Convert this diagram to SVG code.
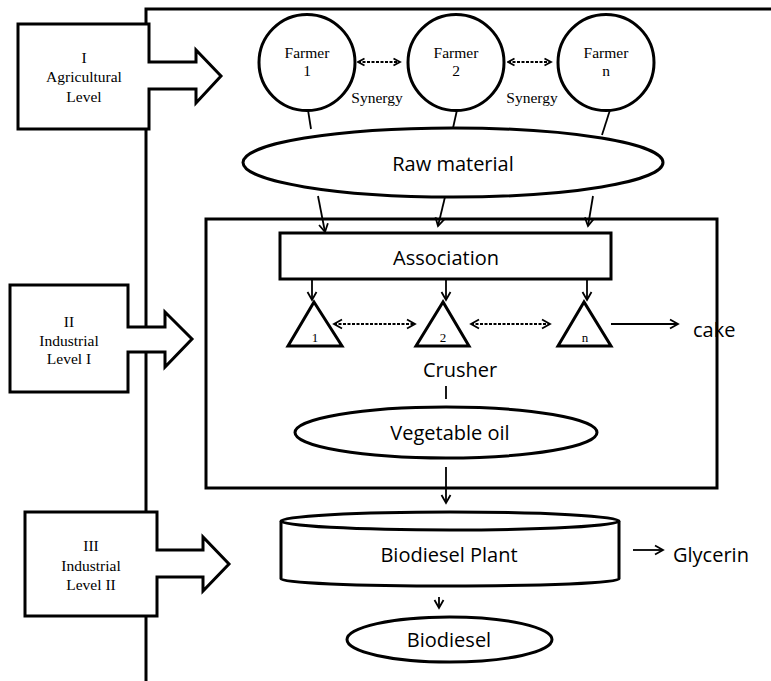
<svg xmlns="http://www.w3.org/2000/svg" width="771" height="681" viewBox="0 0 771 681">
<style>
.thick{fill:#fff;stroke:#000;stroke-width:3;stroke-linejoin:miter}
.shape{fill:#fff;stroke:#000;stroke-width:3}
.ln{fill:none;stroke:#000;stroke-width:1.8}
.dash{fill:none;stroke:#000;stroke-width:1.8;stroke-dasharray:3,1.5}
.ser{font-family:"Liberation Serif","Times New Roman",serif;font-size:15.5px;text-anchor:middle;fill:#000}
.num{font-family:"Liberation Serif","Times New Roman",serif;font-size:13px;text-anchor:middle;fill:#000}
.san{font-family:"Open Sans","DejaVu Sans",sans-serif;font-size:20px;text-anchor:middle;fill:#000}
</style>
<defs>
<marker id="ah" markerUnits="userSpaceOnUse" markerWidth="12" markerHeight="12" refX="10" refY="6" orient="auto-start-reverse" viewBox="0 0 12 12">
<path d="M2,1.5 L10,6 L2,10.5" fill="none" stroke="#000" stroke-width="1.8"/>
</marker>
<marker id="ahs" markerUnits="userSpaceOnUse" markerWidth="10" markerHeight="10" refX="8.5" refY="5" orient="auto-start-reverse" viewBox="0 0 10 10">
<path d="M2,1.5 L8.5,5 L2,8.5" fill="none" stroke="#000" stroke-width="1.8"/>
</marker>
</defs>
<rect width="771" height="681" fill="#fff"/>

<g id="frame">
<path d="M146,681 L146,9 L771,9" fill="none" stroke="#000" stroke-width="3"/>
</g>

<g id="level-1">
<polygon class="thick" points="18,24 149,24 149,62 196,62 196,50 221,76 196,103 196,89 149,89 149,129 18,129"/>
<text class="ser" x="84" y="63">I</text>
<text class="ser" x="84" y="82">Agricultural</text>
<text class="ser" x="84" y="102">Level</text>
</g>

<g id="level-2">
<polygon class="thick" points="10,285 128,285 128,327 165,327 165,312 192,339 165,367 165,352 128,352 128,392 10,392"/>
<text class="ser" x="69" y="327">II</text>
<text class="ser" x="69" y="346">Industrial</text>
<text class="ser" x="69" y="364">Level I</text>
</g>

<g id="level-3">
<polygon class="thick" points="25,512 157,512 157,550 203,550 203,537 229,564 203,591 203,577 157,577 157,616 25,616"/>
<text class="ser" x="91" y="551">III</text>
<text class="ser" x="91" y="571">Industrial</text>
<text class="ser" x="91" y="590">Level II</text>
</g>

<g id="industrial-box">
<rect x="206" y="219" width="511" height="269" fill="none" stroke="#000" stroke-width="3"/>
</g>

<g id="farmer-1">
<circle class="shape" cx="307" cy="62.5" r="48"/>
<text class="ser" x="307" y="58">Farmer</text>
<text class="ser" x="307" y="76">1</text>
</g>
<g id="farmer-2">
<circle class="shape" cx="456" cy="62.5" r="48"/>
<text class="ser" x="456" y="58">Farmer</text>
<text class="ser" x="456" y="76">2</text>
</g>
<g id="farmer-n">
<circle class="shape" cx="606" cy="62.5" r="48"/>
<text class="ser" x="606" y="58">Farmer</text>
<text class="ser" x="606" y="76">n</text>
</g>
<g id="synergy-labels">
<text class="ser" x="377" y="103">Synergy</text>
<text class="ser" x="532" y="103">Synergy</text>
</g>

<g id="raw-material">
<ellipse class="shape" cx="453" cy="162.5" rx="210" ry="34.5"/>
<text class="san" x="453" y="171">Raw material</text>
</g>

<g id="association">
<rect class="shape" x="280" y="233" width="331" height="46"/>
<text class="san" x="446" y="265">Association</text>
</g>

<g id="crusher-1">
<polygon class="thick" points="314,302 288,346 342,346"/>
<text class="num" x="315" y="342">1</text>
</g>
<g id="crusher-2">
<polygon class="thick" points="443,302 416,346 469,346"/>
<text class="num" x="443" y="342">2</text>
</g>
<g id="crusher-n">
<polygon class="thick" points="584,302 558,346 611,346"/>
<text class="num" x="585" y="342">n</text>
</g>
<g id="crusher-label">
<text class="san" x="460" y="377">Crusher</text>
</g>
<g id="cake">
<text class="san" x="693" y="337" style="text-anchor:start">cake</text>
</g>

<g id="vegetable-oil">
<ellipse class="shape" cx="446" cy="432.5" rx="151" ry="25.5"/>
<text class="san" x="450" y="440">Vegetable oil</text>
</g>

<g id="biodiesel-plant">
<path class="shape" d="M281,521 L281,579 A169,7 0 0 0 619,579 L619,521"/>
<ellipse class="shape" cx="450" cy="521" rx="169" ry="9"/>
<text class="san" x="449" y="562">Biodiesel Plant</text>
</g>
<g id="glycerin">
<text class="san" x="673" y="562" style="text-anchor:start">Glycerin</text>
</g>

<g id="biodiesel">
<ellipse class="shape" cx="449.5" cy="639.5" rx="102.5" ry="22.5"/>
<text class="san" x="449" y="647">Biodiesel</text>
</g>

<g id="connectors">
<line class="dash" x1="358" y1="62" x2="400" y2="62" marker-start="url(#ahs)" marker-end="url(#ahs)"/>
<line class="dash" x1="508" y1="62" x2="551" y2="62" marker-start="url(#ahs)" marker-end="url(#ahs)"/>
<line class="ln" x1="308" y1="110" x2="311" y2="129"/>
<line class="ln" x1="457" y1="110" x2="453" y2="128"/>
<line class="ln" x1="610" y1="110" x2="602" y2="135"/>
<line class="ln" x1="318" y1="196" x2="325" y2="232" marker-end="url(#ah)"/>
<line class="ln" x1="445" y1="197" x2="438" y2="226" marker-end="url(#ah)"/>
<line class="ln" x1="593" y1="196" x2="588" y2="226" marker-end="url(#ah)"/>
<line class="ln" x1="312" y1="279" x2="312" y2="300" marker-end="url(#ah)"/>
<line class="ln" x1="446" y1="279" x2="446" y2="300" marker-end="url(#ah)"/>
<line class="ln" x1="587" y1="279" x2="587" y2="300" marker-end="url(#ah)"/>
<line class="dash" x1="334" y1="324" x2="415" y2="324" marker-start="url(#ah)" marker-end="url(#ah)"/>
<line class="dash" x1="471" y1="324" x2="550" y2="324" marker-start="url(#ah)" marker-end="url(#ah)"/>
<line class="ln" x1="611" y1="324" x2="678" y2="324" marker-end="url(#ah)"/>
<line class="ln" x1="446" y1="386" x2="446" y2="399" stroke-width="2"/>
<line class="ln" x1="446" y1="467" x2="446" y2="503" marker-end="url(#ah)"/>
<line class="ln" x1="439" y1="597" x2="439" y2="608" marker-end="url(#ah)"/>
<line class="ln" x1="633" y1="550" x2="663" y2="550" marker-end="url(#ah)"/>
</g>
</svg>
